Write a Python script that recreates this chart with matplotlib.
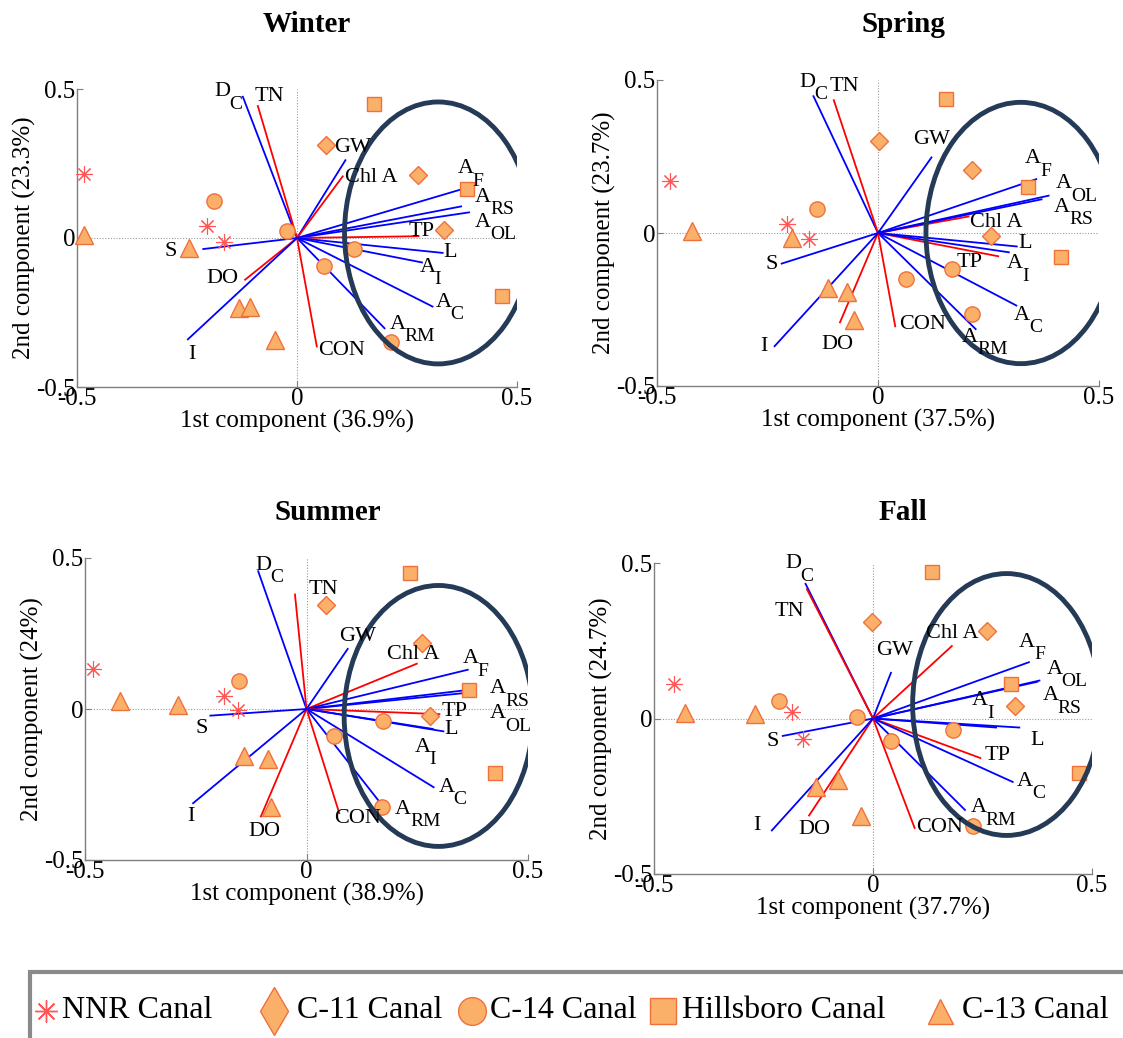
import matplotlib
matplotlib.use("Agg")
import matplotlib.pyplot as plt
from matplotlib.patches import Ellipse, Rectangle

plt.rcParams['font.family'] = ['Liberation Serif', 'DejaVu Serif']

# ---------------- data ----------------
VAR_NAMES = ['D_C', 'TN', 'GW', 'Chl A', 'A_F', 'A_RS', 'A_OL', 'TP', 'L',
             'A_I', 'A_C', 'A_RM', 'CON', 'DO', 'I', 'S']
VAR_KIND = ['blue', 'red', 'blue', 'red', 'blue', 'blue', 'blue', 'red', 'blue',
            'blue', 'blue', 'blue', 'red', 'red', 'blue', 'blue']

SEASONS = ['Winter', 'Spring', 'Summer', 'Fall']
PC1_PCT = ['36.9%', '37.5%', '38.9%', '37.7%']
PC2_PCT = ['23.3%', '23.7%', '24%', '24.7%']
TICKS = [-0.5, 0, 0.5]
TICK_LABELS = ['-0.5', '0', '0.5']
CANALS = ['NNR Canal', 'C-11 Canal', 'C-14 Canal', 'Hillsboro Canal', 'C-13 Canal']

# loadings (PC1, PC2) in VAR_NAMES order
winter_load_x = [-0.123, -0.089, 0.110, 0.104, 0.373, 0.373, 0.391, 0.276, 0.331,
                 0.284, 0.308, 0.199, 0.045, -0.118, -0.248, -0.213]
winter_load_y = [0.474, 0.443, 0.261, 0.207, 0.163, 0.106, 0.086, 0.006, -0.050,
                 -0.082, -0.230, -0.303, -0.364, -0.140, -0.340, -0.037]
spring_load_x = [-0.146, -0.100, 0.121, 0.205, 0.358, 0.370, 0.386, 0.272, 0.314,
                 0.296, 0.313, 0.221, 0.039, -0.086, -0.234, -0.218]
spring_load_y = [0.447, 0.434, 0.247, 0.054, 0.176, 0.110, 0.122, -0.076, -0.044,
                 -0.063, -0.237, -0.314, -0.305, -0.292, -0.370, -0.100]
summer_load_x = [-0.109, -0.026, 0.093, 0.249, 0.364, 0.358, 0.358, 0.300, 0.309,
                 0.285, 0.287, 0.164, 0.074, -0.103, -0.256, -0.217]
summer_load_y = [0.456, 0.379, 0.199, 0.150, 0.130, 0.062, 0.053, -0.017, -0.074,
                 -0.066, -0.259, -0.306, -0.345, -0.356, -0.312, -0.022]
fall_load_x = [-0.154, -0.151, 0.041, 0.180, 0.356, 0.375, 0.380, 0.245, 0.334,
               0.281, 0.319, 0.210, 0.095, -0.146, -0.231, -0.206]
fall_load_y = [0.433, 0.416, 0.147, 0.233, 0.181, 0.118, 0.122, -0.127, -0.029,
               -0.029, -0.204, -0.294, -0.352, -0.312, -0.360, -0.056]

# sample scores per canal
winter_nnr_x = [-0.485, -0.205, -0.166]
winter_nnr_y = [0.216, 0.039, -0.015]
winter_c11_x = [0.067, 0.276, 0.335]
winter_c11_y = [0.311, 0.213, 0.028]
winter_c14_x = [-0.188, -0.023, 0.130, 0.061, 0.213]
winter_c14_y = [0.123, 0.022, -0.037, -0.095, -0.348]
winter_hil_x = [0.175, 0.386, 0.467]
winter_hil_y = [0.448, 0.163, -0.196]
winter_c13_x = [-0.485, -0.245, -0.131, -0.106, -0.050]
winter_c13_y = [0.011, -0.034, -0.235, -0.230, -0.342]

spring_nnr_x = [-0.471, -0.206, -0.157]
spring_nnr_y = [0.169, 0.031, -0.020]
spring_c11_x = [0.002, 0.213, 0.256]
spring_c11_y = [0.300, 0.205, -0.009]
spring_c14_x = [-0.138, 0.064, 0.168, 0.212]
spring_c14_y = [0.080, -0.149, -0.118, -0.264]
spring_hil_x = [0.153, 0.340, 0.415]
spring_hil_y = [0.438, 0.149, -0.080]
spring_c13_x = [-0.420, -0.195, -0.113, -0.071, -0.055]
spring_c13_y = [0.005, -0.016, -0.180, -0.193, -0.285]

summer_nnr_x = [-0.481, -0.187, -0.155]
summer_nnr_y = [0.133, 0.042, -0.002]
summer_c11_x = [0.044, 0.261, 0.279]
summer_c11_y = [0.343, 0.217, -0.024]
summer_c14_x = [-0.153, 0.063, 0.172, 0.170]
summer_c14_y = [0.092, -0.088, -0.041, -0.323]
summer_hil_x = [0.233, 0.366, 0.426]
summer_hil_y = [0.451, 0.064, -0.212]
summer_c13_x = [-0.422, -0.290, -0.141, -0.086, -0.080]
summer_c13_y = [0.025, 0.014, -0.157, -0.166, -0.325]

fall_nnr_x = [-0.454, -0.184, -0.159]
fall_nnr_y = [0.110, 0.022, -0.065]
fall_c11_x = [-0.002, 0.260, 0.324]
fall_c11_y = [0.309, 0.280, 0.041]
fall_c14_x = [-0.215, -0.037, 0.182, 0.041, 0.229]
fall_c14_y = [0.056, 0.005, -0.038, -0.073, -0.346]
fall_hil_x = [0.134, 0.316, 0.470]
fall_hil_y = [0.470, 0.111, -0.174]
fall_c13_x = [-0.429, -0.270, -0.130, -0.080, -0.027]
fall_c13_y = [0.018, 0.014, -0.220, -0.199, -0.312]

# ---------------- layout (label positions, ellipses, axes boxes) ----------------
winter_lab_x = [-0.158, -0.063, 0.126, 0.170, 0.394, 0.446, 0.446, 0.284, 0.349,
                0.308, 0.345, 0.252, 0.101, -0.170, -0.239, -0.288]
winter_lab_y = [0.476, 0.476, 0.303, 0.202, 0.219, 0.123, 0.039, 0.022, -0.048,
                -0.112, -0.230, -0.303, -0.376, -0.135, -0.392, -0.045]
spring_lab_x = [-0.149, -0.075, 0.121, 0.268, 0.362, 0.439, 0.443, 0.207, 0.333,
                0.321, 0.337, 0.231, 0.100, -0.091, -0.257, -0.241]
spring_lab_y = [0.479, 0.479, 0.305, 0.033, 0.229, 0.071, 0.147, -0.098, -0.033,
                -0.114, -0.283, -0.354, -0.300, -0.365, -0.370, -0.103]
summer_lab_x = [-0.086, 0.039, 0.116, 0.241, 0.382, 0.455, 0.455, 0.334, 0.327,
                0.273, 0.327, 0.241, 0.116, -0.096, -0.260, -0.237]
summer_lab_y = [0.462, 0.396, 0.241, 0.180, 0.152, 0.053, -0.030, -0.008, -0.069,
                -0.140, -0.273, -0.345, -0.361, -0.406, -0.356, -0.066]
fall_lab_x = [-0.171, -0.190, 0.050, 0.182, 0.363, 0.429, 0.437, 0.285, 0.375,
              0.256, 0.359, 0.264, 0.153, -0.134, -0.264, -0.229]
fall_lab_y = [0.484, 0.344, 0.220, 0.274, 0.231, 0.059, 0.145, -0.118, -0.070,
              0.043, -0.215, -0.301, -0.349, -0.358, -0.344, -0.075]

ELLIPSES = {  # center x, center y, width, height (data units)
    'Winter': (0.321, 0.017, 0.426, 0.879),
    'Spring': (0.323, 0.000, 0.429, 0.854),
    'Summer': (0.298, -0.023, 0.426, 0.864),
    'Fall': (0.305, 0.045, 0.429, 0.842),
}

W, H = 1123, 1038
AX_PX = {  # left, right, top, bottom in pixels
    'Winter': (77, 517, 89, 387),
    'Spring': (657, 1099, 80, 386),
    'Summer': (85, 528, 558, 860),
    'Fall': (654, 1092, 563, 874),
}
TITLE_PX = {'Winter': (307, 24), 'Spring': (903, 24), 'Summer': (328, 512), 'Fall': (903, 512)}

LOADS = {
    'Winter': (winter_load_x, winter_load_y, winter_lab_x, winter_lab_y),
    'Spring': (spring_load_x, spring_load_y, spring_lab_x, spring_lab_y),
    'Summer': (summer_load_x, summer_load_y, summer_lab_x, summer_lab_y),
    'Fall': (fall_load_x, fall_load_y, fall_lab_x, fall_lab_y),
}
SCORES = {
    'Winter': [(winter_nnr_x, winter_nnr_y), (winter_c11_x, winter_c11_y),
               (winter_c14_x, winter_c14_y), (winter_hil_x, winter_hil_y),
               (winter_c13_x, winter_c13_y)],
    'Spring': [(spring_nnr_x, spring_nnr_y), (spring_c11_x, spring_c11_y),
               (spring_c14_x, spring_c14_y), (spring_hil_x, spring_hil_y),
               (spring_c13_x, spring_c13_y)],
    'Summer': [(summer_nnr_x, summer_nnr_y), (summer_c11_x, summer_c11_y),
               (summer_c14_x, summer_c14_y), (summer_hil_x, summer_hil_y),
               (summer_c13_x, summer_c13_y)],
    'Fall': [(fall_nnr_x, fall_nnr_y), (fall_c11_x, fall_c11_y),
             (fall_c14_x, fall_c14_y), (fall_hil_x, fall_hil_y),
             (fall_c13_x, fall_c13_y)],
}

FILL = '#FBB06A'
EDGE = '#F0703C'
STAR = '#FF5555'
MARKER_STYLE = [
    dict(marker=(8, 2, 0), ms=12, mec=STAR, mfc='none', mew=0.8),
    dict(marker='D', ms=9.5, mfc=FILL, mec=EDGE, mew=1.0),
    dict(marker='o', ms=11, mfc=FILL, mec=EDGE, mew=1.0),
    dict(marker='s', ms=10.5, mfc=FILL, mec=EDGE, mew=1.0),
    dict(marker='^', ms=12.5, mfc=FILL, mec=EDGE, mew=1.0),
]
VEC_COLOR = {'blue': '#0000FF', 'red': '#FF0000'}
ELL_COLOR = '#243A56'
AX_COLOR = '#7F7F7F'
LAB_FS = 16
SUB_FS = 14


def put_label(ax, px, py, name):
    if '_' in name:
        base, sub = name.split('_')
        shift = 3.6 * len(sub)
        ax.annotate(base, (px, py), xytext=(-shift, 3), textcoords='offset points',
                    fontsize=LAB_FS, ha='center', va='center', zorder=6)
        ax.annotate(sub, (px, py), xytext=(-shift + 5.0, -6), textcoords='offset points',
                    fontsize=SUB_FS, ha='left', va='center', zorder=6)
    else:
        ax.text(px, py, name, fontsize=LAB_FS, ha='center', va='center', zorder=6)


fig = plt.figure(figsize=(W / 100, H / 100), dpi=100)

for i, season in enumerate(SEASONS):
    l, r, t, b = AX_PX[season]
    ax = fig.add_axes([l / W, 1 - b / H, (r - l) / W, (b - t) / H])
    ax.set_xlim(-0.5, 0.5)
    ax.set_ylim(-0.5, 0.5)
    ax.axhline(0, color='#9a9a9a', lw=0.8, ls=(0, (1, 1.5)), zorder=0)
    ax.axvline(0, color='#9a9a9a', lw=0.8, ls=(0, (1, 1.5)), zorder=0)

    lx, ly, tx, ty = LOADS[season]
    for name, kind, x, y, px, py in zip(VAR_NAMES, VAR_KIND, lx, ly, tx, ty):
        ax.plot([0, x], [0, y], color=VEC_COLOR[kind], lw=1.3, zorder=2)
        put_label(ax, px, py, name)

    for (sx, sy), st in zip(SCORES[season], MARKER_STYLE):
        ax.plot(sx, sy, ls='none', zorder=4, clip_on=False, **st)

    cx, cy, ew, eh = ELLIPSES[season]
    ax.add_patch(Ellipse((cx, cy), ew, eh, fill=False, ec=ELL_COLOR, lw=3.5, zorder=5))

    ax.set_xticks(TICKS)
    ax.set_xticklabels(TICK_LABELS)
    ax.set_yticks(TICKS)
    ax.set_yticklabels(TICK_LABELS)
    ax.tick_params(direction='in', length=4, width=0.8, color=AX_COLOR,
                   labelsize=18, pad=1)
    for sp in ['top', 'right']:
        ax.spines[sp].set_visible(False)
    for sp in ['left', 'bottom']:
        ax.spines[sp].set_color(AX_COLOR)
        ax.spines[sp].set_linewidth(1.0)
    ax.set_xlabel('1st component (%s)' % PC1_PCT[i], fontsize=18, labelpad=0)
    ax.set_ylabel('2nd component (%s)' % PC2_PCT[i], fontsize=18, labelpad=0)

    txp, typ = TITLE_PX[season]
    fig.text(txp / W, 1 - typ / H, season, fontsize=21, fontweight='bold',
             ha='center', va='center')

# legend box
fig.patches.append(Rectangle((30 / W, -0.05), 1.2, (1 - 972 / H) + 0.05,
                             transform=fig.transFigure, fill=False,
                             ec='#8A8A8A', lw=3))
LEG_MARK_PX = [46, 274, 472, 663, 940]
LEG_TEXT_PX = [62, 297, 490, 682, 962]
LEG_Y_PX = 1011
leg_styles = [
    dict(marker=(8, 2, 0), ms=16, mec=STAR, mfc='none', mew=1.0),
    dict(marker='d', ms=24, mfc=FILL, mec=EDGE, mew=1.0),
    dict(marker='o', ms=20, mfc=FILL, mec=EDGE, mew=1.0),
    dict(marker='s', ms=19, mfc=FILL, mec=EDGE, mew=1.0),
    dict(marker='^', ms=18, mfc=FILL, mec=EDGE, mew=1.0),
]
lax = fig.add_axes([0, 0, 1, 1], facecolor='none')
lax.set_xlim(0, W)
lax.set_ylim(H, 0)
lax.axis('off')
for mx, txx, lab, st in zip(LEG_MARK_PX, LEG_TEXT_PX, CANALS, leg_styles):
    lax.plot([mx], [LEG_Y_PX], ls='none', **st)
    lax.text(txx, LEG_Y_PX, lab, fontsize=23, ha='left', va='center')

fig.savefig('out.png', dpi=100)
